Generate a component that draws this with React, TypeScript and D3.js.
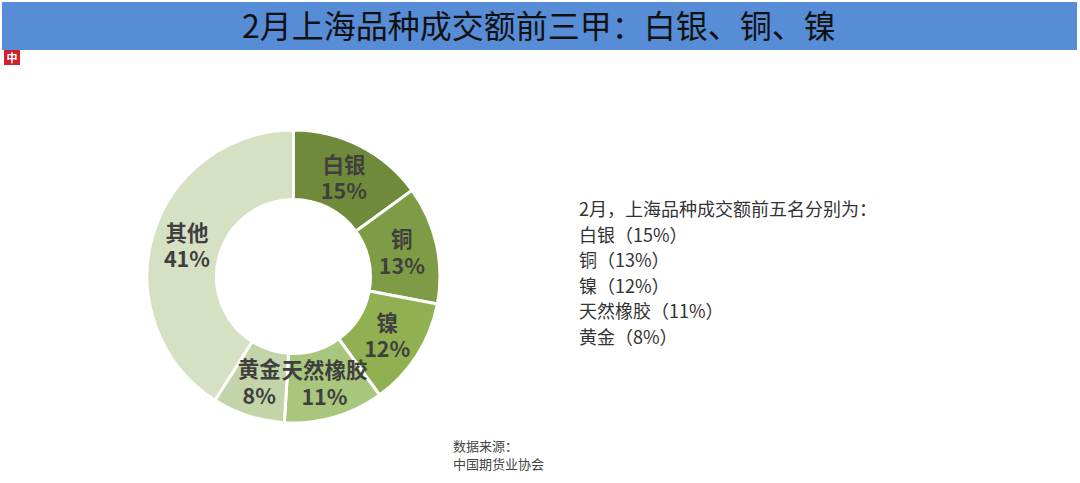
import React from "react";
import * as d3 from "d3";

const categories = ["白银", "铜", "镍", "天然橡胶", "黄金", "其他"];
const values = [15, 13, 12, 11, 8, 41];
const colors = ["#6F8A3A", "#7E9C45", "#91B052", "#A9C67D", "#C3D5A8", "#D6E1C4"];
const titleText = "2月上海品种成交额前三甲：白银、铜、镍";
const noteLines = ["2月，上海品种成交额前五名分别为：", "白银（15%）", "铜（13%）", "镍（12%）", "天然橡胶（11%）", "黄金（8%）"];
const sourceLines = ["数据来源：", "中国期货业协会"];

const W = 1080, H = 483;
const cx = 293.5, cy = 276.5, R = 146.5, r0 = 77;
const FONT = "'Noto Sans CJK SC', 'Noto Sans', sans-serif";

export default function App() {
  const pie = d3.pie<number>().sort(null).value((d) => d)(values);
  const arc = d3.arc<d3.PieArcDatum<number>>().innerRadius(r0).outerRadius(R);
  const labelArc = d3.arc<d3.PieArcDatum<number>>().innerRadius(145).outerRadius(77);
  return (
    <svg width={W} height={H} style={{ position: "absolute", left: 0, top: 0, background: "#fff" }}>
      <rect x={2} y={2} width={1075} height={48} fill="#578CD6" />
      <text x={539} y={38} textAnchor="middle" fontFamily={FONT} fontSize={32} fill="#111">{titleText}</text>
      <rect x={4} y={50} width={16} height={15} fill="#D0202A" />
      <text x={12} y={62} textAnchor="middle" fontFamily={FONT} fontSize={11} fontWeight="bold" fill="#fff">中</text>
      <g transform={`translate(${cx},${cy})`}>
        {pie.map((p, i) => (
          <path key={i} d={arc(p) || ""} fill={colors[i]} stroke="#fff" strokeWidth={3} />
        ))}
        {pie.map((p, i) => {
          const [x, y] = labelArc.centroid(p);
          return (
            <text key={"l" + i} fontFamily={FONT} fontWeight="bold" fontSize={21.5} fill="#3F3F3F" textAnchor="middle">
              <tspan x={x} y={y - 5}>{categories[i]}</tspan>
              <tspan x={x} y={y + 21.5}>{values[i] + "%"}</tspan>
            </text>
          );
        })}
      </g>
      {noteLines.map((t, i) => (
        <text key={"n" + i} x={579} y={216 + i * 25.5} fontFamily={FONT} fontSize={18} fill="#333">{t}</text>
      ))}
      {sourceLines.map((t, i) => (
        <text key={"s" + i} x={453} y={451 + i * 18} fontFamily={FONT} fontSize={13} fill="#444">{t}</text>
      ))}
    </svg>
  );
}
